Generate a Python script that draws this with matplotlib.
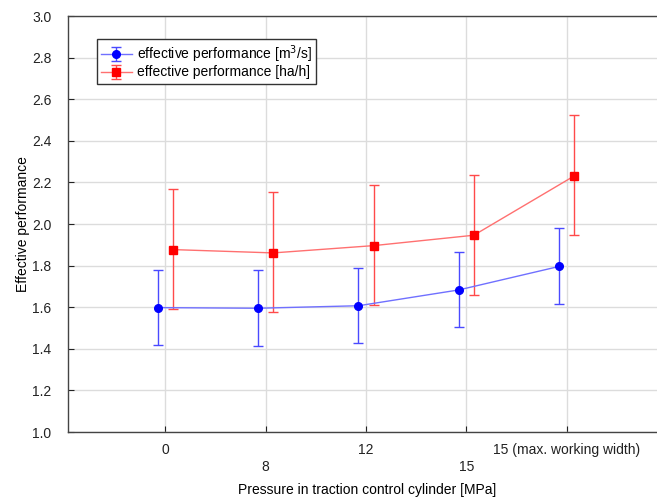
import matplotlib
matplotlib.use("Agg")
import matplotlib.pyplot as plt
import numpy as np

plt.rcParams['font.family'] = ['Liberation Sans', 'DejaVu Sans']

categories = ["0", "8", "12", "15", "15 (max. working width)"]
blue_mean = [1.598, 1.595, 1.607, 1.683, 1.796]
blue_low = [1.417, 1.412, 1.426, 1.503, 1.615]
blue_high = [1.779, 1.777, 1.790, 1.865, 1.979]
red_mean = [1.877, 1.861, 1.896, 1.946, 2.231]
red_low = [1.590, 1.576, 1.609, 1.657, 1.949]
red_high = [2.167, 2.152, 2.189, 2.234, 2.525]
yticks = [1.0, 1.2, 1.4, 1.6, 1.8, 2.0, 2.2, 2.4, 2.6, 2.8, 3.0]

W, H = 657, 498
fig = plt.figure(figsize=(W / 100, H / 100), dpi=100)
ax = fig.add_axes([68 / W, 66 / H, 599 / W, 416 / H])

x = np.arange(len(categories))
off = 0.075
bm = np.array(blue_mean); rm = np.array(red_mean)
berr = [bm - np.array(blue_low), np.array(blue_high) - bm]
rerr = [rm - np.array(red_low), np.array(red_high) - rm]

eb1 = ax.errorbar(x - off, bm, yerr=berr, fmt='-o', color='#7070ff', ecolor='#4a4aff',
                  mfc='#0000ff', mec='#0000ff', ms=5.5, lw=1.0, elinewidth=1.0,
                  capsize=3.6, capthick=1.0, zorder=3,
                  label='effective performance [m$^3$/s]')
eb2 = ax.errorbar(x + off, rm, yerr=rerr, fmt='-s', color='#ff7070', ecolor='#ff4a4a',
                  mfc='#ff0000', mec='#ff0000', ms=5.5, lw=1.0, elinewidth=1.0,
                  capsize=3.6, capthick=1.0, zorder=3,
                  label='effective performance [ha/h]')

ax.set_xlim(-0.97, 5.0)
ax.set_ylim(1.0, 3.0)
ax.set_yticks(yticks)
ax.set_yticklabels([f"{v:.1f}" for v in yticks])
ax.set_xticks(x)
labels = [c if i % 2 == 0 else "\n" + c for i, c in enumerate(categories)]
ax.set_xticklabels(labels, linespacing=1.3)
ax.tick_params(direction='in', length=4, width=0.8, labelsize=10, colors='#222222', pad=8)
ax.tick_params(axis='y', pad=12)
ax.grid(True, color='#dcdcdc', lw=1.0)
ax.set_axisbelow(True)
for s in ax.spines.values():
    s.set_color('#444444'); s.set_linewidth(1.0)
ax.spines['right'].set_visible(False)

ax.set_xlabel("Pressure in traction control cylinder [MPa]", fontsize=10, labelpad=6)
ax.set_ylabel("Effective performance", fontsize=10, labelpad=1)

leg = ax.legend(loc='upper left', bbox_to_anchor=(97 / W, 1 - 39 / H), bbox_transform=fig.transFigure,
                fontsize=10, frameon=True, fancybox=False, framealpha=1, edgecolor='#333333',
                borderpad=0.3, handlelength=2.2, handletextpad=0.4, labelspacing=0.05,
                borderaxespad=0)
leg.get_frame().set_linewidth(1.0)

fig.savefig("out.png", dpi=100)
